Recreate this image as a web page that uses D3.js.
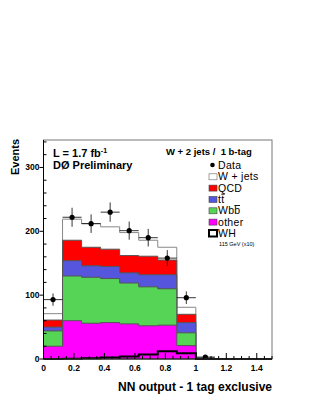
<!DOCTYPE html>
<html><head><meta charset="utf-8">
<script src="https://cdn.jsdelivr.net/npm/d3@7/dist/d3.min.js"></script>
<style>
html,body{margin:0;padding:0;background:#fff;}
svg{display:block;font-family:"Liberation Sans",Arial,Helvetica,sans-serif;}
</style></head>
<body>
<svg id="c" width="310" height="401"></svg>
<script>
// ---- data (per bin, bins of 0.125 from 0 to 1.5) ----
const binEdges = [0,0.125,0.25,0.375,0.5,0.625,0.75,0.875,1.0,1.125,1.25,1.375,1.5];
const other = [20,60,56,57,55,52,53,21,0.4,0,0,0];
const wbb   = [24,70,72,69,64,61,57,20,0.3,0,0,0];
const ttbar = [6,24,18,19,16,19,22,16,0.2,0,0,0];
const qcd   = [11,32,29,27,27,29,23,13,0.3,0,0,0];
const wjets = [10,33,37,35,36,25,20,11,0.5,0,0,0];
const dataY = [93,222,212,230,201,190,158,96,3];
const whx10 = [0,0.5,1,2.5,4,7,12,9,0,0,0,0];
const xTicks = [0,0.2,0.4,0.6,0.8,1,1.2,1.4];
const yTicks = [0,100,200,300];
const legendLabels = ["Data","W + jets","QCD","tt","Wbb","other","WH"];
const colors = {wjets:"#ffffff", qcd:"#ff0000", ttbar:"#5555dd", wbb:"#55d455", other:"#ff00ff"};

const svg = d3.select("#c");
const x = d3.scaleLinear().domain([0,1.5]).range([43.5,272]);
const y = d3.scaleLinear().domain([0,343]).range([359,140]);

// cumulative stacks
const layers = [
  {key:"other", vals:other},
  {key:"wbb", vals:wbb},
  {key:"ttbar", vals:ttbar},
  {key:"qcd", vals:qcd},
  {key:"wjets", vals:wjets}
];
let cum = other.map(()=>0);
layers.forEach(l=>{ cum = cum.map((c,i)=>c+l.vals[i]); l.top = cum.slice(); });

function stepPts(vals){
  const pts=[];
  vals.forEach((v,i)=>{ pts.push([binEdges[i],v]); pts.push([binEdges[i+1],v]); });
  return pts;
}
const line = d3.line().x(d=>x(d[0])).y(d=>y(d[1]));

layers.slice().reverse().forEach(l=>{
  const pts = stepPts(l.top);
  const full = [[binEdges[0],0]].concat(pts).concat([[binEdges[binEdges.length-1],0]]);
  svg.append("path").attr("d", line(full))
    .attr("fill", colors[l.key]).attr("stroke", l.key==="wjets"?"#888":"#555").attr("stroke-width",1);
});

// WH x10 line
svg.append("path").attr("d", line(stepPts(whx10))).attr("fill","none").attr("stroke","#000").attr("stroke-width",2);

// data points
const g = svg.append("g");
dataY.forEach((v,i)=>{
  const xc = (binEdges[i]+binEdges[i+1])/2;
  const e = Math.sqrt(v);
  g.append("line").attr("x1",x(binEdges[i])).attr("x2",x(binEdges[i+1])).attr("y1",y(v)).attr("y2",y(v)).attr("stroke","#000").attr("stroke-width",0.8);
  g.append("line").attr("x1",x(xc)).attr("x2",x(xc)).attr("y1",y(Math.max(0,v-e))).attr("y2",y(v+e)).attr("stroke","#000").attr("stroke-width",0.8);
  g.append("circle").attr("cx",x(xc)).attr("cy",y(v)).attr("r",2.6).attr("fill","#000");
});

// frame
svg.append("rect").attr("x",x(0)).attr("y",y(343)).attr("width",x(1.5)-x(0)).attr("height",y(0)-y(343))
  .attr("fill","none").attr("stroke","#777").attr("stroke-width",1);
svg.append("line").attr("x1",x(0)).attr("x2",x(0)).attr("y1",y(0)).attr("y2",y(343)).attr("stroke","#000");
svg.append("line").attr("x1",x(0)).attr("x2",x(1.5)).attr("y1",y(0)).attr("y2",y(0)).attr("stroke","#000");

// y axis
const yMinor = d3.range(0,343,20);
svg.append("g").selectAll("line").data(yMinor).join("line")
  .attr("x1",x(0)).attr("x2",d=>yTicks.includes(d)?x(0)-4:x(0)+3)
  .attr("y1",d=>y(d)).attr("y2",d=>y(d)).attr("stroke","#000").attr("stroke-width",1);
svg.append("g").selectAll("text").data(yTicks).join("text")
  .attr("x",x(0)-4).attr("y",d=>y(d)+3).attr("text-anchor","end")
  .attr("font-size",8.5).attr("font-weight","bold").text(d=>d);

// x axis
const xMinor = d3.range(0,1.5001,0.05);
svg.append("g").selectAll("line").data(xMinor).join("line")
  .attr("x1",d=>x(d)).attr("x2",d=>x(d)).attr("y1",y(0))
  .attr("y2",d=>Math.abs(d/0.2-Math.round(d/0.2))<1e-6 ? y(0)-6 : y(0)-3)
  .attr("stroke","#000").attr("stroke-width",1);
svg.append("g").selectAll("text").data(xTicks).join("text")
  .attr("x",d=>x(d)).attr("y",371).attr("text-anchor","middle")
  .attr("font-size",8.5).attr("font-weight","bold").text(d=>d);

// axis titles
svg.append("text").attr("transform","translate(19,139) rotate(-90)").attr("text-anchor","end")
  .attr("font-size",11).attr("font-weight","bold").text("Events");
svg.append("text").attr("x",272).attr("y",391).attr("text-anchor","end")
  .attr("font-size",12).attr("font-weight","bold").text("NN output - 1 tag exclusive");

// annotations
const t1 = svg.append("text").attr("x",53).attr("y",157).attr("font-size",11).attr("font-weight","bold");
t1.append("tspan").text("L = 1.7 fb");
t1.append("tspan").attr("font-size",7).attr("dy",-4).text("-1");
svg.append("text").attr("x",53).attr("y",169).attr("font-size",11).attr("font-weight","bold").text("D\u00D8 Preliminary");
svg.append("text").attr("x",166).attr("y",155).attr("font-size",9.5).attr("font-weight","bold")
  .style("white-space","pre").text("W + 2 jets /  1 b-tag");

// legend
const lg = svg.append("g");
const lx = 209, tx = 218;
const rows = [169,180.3,191.6,203,214.3,225.6,237];
lg.append("circle").attr("cx",lx+3.5).attr("cy",rows[0]-4).attr("r",2.3).attr("fill","#000");
const boxKeys = ["wjets","qcd","ttbar","wbb","other"];
boxKeys.forEach((k,i)=>{
  lg.append("rect").attr("x",lx).attr("y",rows[i+1]-6.5).attr("width",8).attr("height",6)
    .attr("fill",colors[k]).attr("stroke",k==="wjets"?"#666":"#444").attr("stroke-width",0.6);
});
lg.append("rect").attr("x",lx).attr("y",rows[6]-7).attr("width",8).attr("height",6.5)
  .attr("fill","#fff").attr("stroke","#000").attr("stroke-width",2);
const legTexts = [];
legendLabels.forEach((t,i)=>{
  legTexts.push(lg.append("text").attr("x",tx).attr("y",rows[i]).attr("font-size",10.5)
    .attr("letter-spacing",0.3).text(t));
});
// overbars for anti-quarks (t-bar, b-bar) drawn over the last letter
[3,4].forEach(i=>{
  const node = legTexts[i].node();
  const full = node.getComputedTextLength();
  const lastW = node.getSubStringLength(node.getNumberOfChars()-1, 1);
  const x0 = tx + full - lastW;
  const w = Math.max(3.5, lastW - 0.5);
  lg.append("path").attr("d", `M${x0},${rows[i]-8.8}h${w}`)
    .attr("stroke","#000").attr("stroke-width",0.9).attr("fill","none");
});
lg.append("text").attr("x",tx+1).attr("y",246).attr("font-size",5.5).text("115 GeV (x10)");
</script>
</body></html>
